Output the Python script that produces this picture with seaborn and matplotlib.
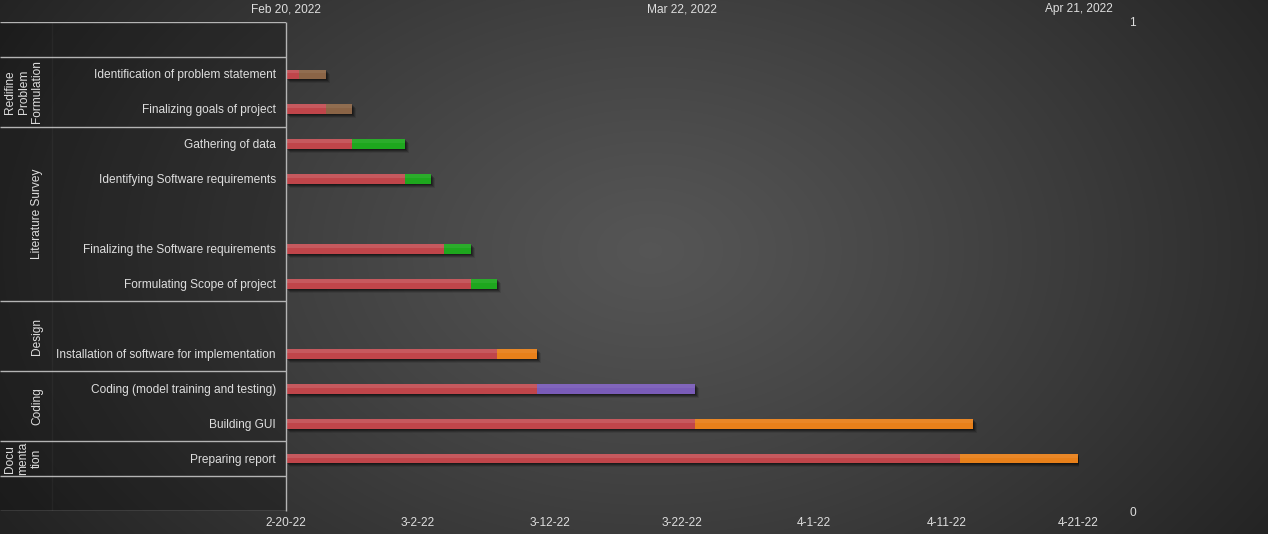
import numpy as np
import pandas as pd
import matplotlib
matplotlib.use("Agg")
import matplotlib.pyplot as plt
import matplotlib.transforms as mtrans
from matplotlib.patches import Rectangle
import seaborn as sns

# ---------------- data ----------------
project_start = "2022-02-20"
project_end = "2022-04-21"

tasks = ["", "Identification of problem statement", "Finalizing goals of project",
         "Gathering of data", "Identifying Software requirements", "",
         "Finalizing the Software requirements", "Formulating Scope of project", "",
         "Installation of software for implementation", "Coding (model training and testing)",
         "Building GUI", "Preparing report", ""]
task_starts = ["2022-02-20", "2022-02-21", "2022-02-23", "2022-02-25", "2022-03-01", "2022-02-20",
               "2022-03-04", "2022-03-06", "2022-02-20", "2022-03-08", "2022-03-11",
               "2022-03-23", "2022-04-12", "2022-02-20"]
task_ends = ["2022-02-20", "2022-02-23", "2022-02-25", "2022-03-01", "2022-03-03", "2022-02-20",
             "2022-03-06", "2022-03-08", "2022-02-20", "2022-03-11", "2022-03-23",
             "2022-04-13", "2022-04-21", "2022-02-20"]
task_colors = ["#c0464a", "#8a6446", "#8a6446", "#1ea71e", "#1ea71e", "#1ea71e",
               "#1ea71e", "#1ea71e", "#e8801a", "#e8801a", "#7a5cb8",
               "#e8801a", "#e8801a", "#c0464a"]
offset_color = "#c0454a"

group_names = ["Redifine\nProblem\nFormulation", "Literature Survey", "Design", "Coding",
               "Docu\nmenta\ntion"]
group_first_row = [1, 3, 8, 10, 12]
group_last_row = [2, 7, 9, 11, 12]

bottom_tick_step = 10
top_tick_step = 30

# ---------------- prep ----------------
t0 = pd.Timestamp(project_start)
t1 = pd.Timestamp(project_end)
total_days = (t1 - t0).days
rows = [str(i) for i in range(len(tasks))]
df = pd.DataFrame({
    "row": rows,
    "task": tasks,
    "start_day": [(pd.Timestamp(s) - t0).days for s in task_starts],
    "end_day": [(pd.Timestamp(e) - t0).days for e in task_ends],
})

TXT = "#dedede"
FS = 8.6
plt.rcParams["font.family"] = ["Liberation Sans", "DejaVu Sans"]

W, H = 1268, 534
fig = plt.figure(figsize=(W / 100, H / 100), dpi=100)

# background radial gradient
bg = fig.add_axes([0, 0, 1, 1], zorder=-10)
bg.axis("off")
yy, xx = np.mgrid[0:H, 0:W]
d = np.sqrt(((xx - 650) / 760) ** 2 + ((yy - 250) / 520) ** 2)
v = 0.335 - (0.335 - 0.135) * np.clip(d, 0, 1) ** 1.15
rgb = np.dstack([v, v, v])
bg.imshow(rgb, aspect="auto", extent=[0, 1, 0, 1], interpolation="bilinear")
bg.set_xlim(0, 1)
bg.set_ylim(0, 1)

L = 286 / W
R = 1079 / W
B = (H - 511) / H
T = (H - 22) / H
ax = fig.add_axes([L, B, R - L, T - B])
ax.set_facecolor("none")

# full bars (coloured duration part)
sns.barplot(data=df, x="end_day", y="row", hue="row", order=rows, hue_order=rows,
            palette=task_colors, legend=False, orient="h", width=0.28, dodge=False,
            saturation=1, linewidth=0, ax=ax)
full_patches = list(ax.patches)
# shadows
for p in full_patches:
    if p.get_width() <= 0:
        continue
    for k, a in [(1, 0.25), (2, 0.22), (3, 0.18), (4, 0.10)]:
        tr = ax.transData + mtrans.ScaledTranslation(k / 100, -k / 100, fig.dpi_scale_trans)
        ax.add_patch(Rectangle((p.get_x(), p.get_y()), p.get_width(), p.get_height(),
                               transform=tr, facecolor="black", alpha=a, lw=0,
                               zorder=p.get_zorder() - 0.5))
# offset (red) part
sns.barplot(data=df, x="start_day", y="row", order=rows, color=offset_color,
            orient="h", width=0.28, saturation=1, linewidth=0, ax=ax)
# slight gloss
for p in list(ax.patches):
    if isinstance(p, Rectangle) and p.get_facecolor()[3] == 1 and p.get_width() > 0:
        ax.add_patch(Rectangle((p.get_x(), p.get_y()), p.get_width(), p.get_height() * 0.4,
                               facecolor="white", alpha=0.06, lw=0, zorder=p.get_zorder() + 0.1))

ax.set_ylim(len(rows) - 0.5, -0.5)
ax.set_xlim(0, total_days + 0.04)
ax.set_xlabel("")
ax.set_ylabel("")
ax.set_yticks([])
bt = list(range(0, total_days + 1, bottom_tick_step))
bl = []
for dd in bt:
    t = t0 + pd.Timedelta(days=dd)
    bl.append(f"{t.month}-{t.day}-{t:%y}")
ax.set_xticks(bt, labels=bl)
ax.set_xticks(list(range(top_tick_step, total_days + 1, top_tick_step)), minor=True)
ax.tick_params(axis="x", which="both", length=0, pad=4.3, colors=TXT, labelsize=FS)
ax.grid(False)
ax.grid(which="minor", axis="x", color="#6a6a6a", lw=1)
ax.set_axisbelow(True)
for s in ax.spines.values():
    s.set_visible(False)

sec = ax.secondary_xaxis("top")
tt = list(range(0, total_days + 1, top_tick_step))
tl = []
for dd in tt:
    t = t0 + pd.Timedelta(days=dd)
    tl.append(f"{t:%b} {t.day}, {t.year}")
sec.set_xticks(tt, labels=tl)
sec.tick_params(length=0, pad=5, colors=TXT, labelsize=FS)
for s in sec.spines.values():
    s.set_visible(False)

ax2 = ax.twinx()
ax2.set_ylim(0, 1)
ax2.set_yticks([0, 1], labels=["0", "1"])
ax2.tick_params(axis="y", length=0, pad=36, colors=TXT, labelsize=FS)
for s in ax2.spines.values():
    s.set_visible(False)

# ---------------- left table ----------------
axt = fig.add_axes([0, B, L, T - B])
axt.set_facecolor("none")
axt.set_xlim(0, 286)
axt.set_ylim(len(rows) - 0.5, -0.5)
axt.axis("off")
axt.add_patch(Rectangle((0, -0.5), 286, len(rows), facecolor="black", alpha=0.22, lw=0))
borders = sorted(set([-0.5, len(rows) - 0.5] + [f - 0.5 for f in group_first_row] +
                     [l + 0.5 for l in group_last_row]))
axt.hlines(borders, 0, 286, color="#b4b4b4", lw=1)
axt.vlines(285.5, -0.5, len(rows) - 0.5, color="#b4b4b4", lw=1, clip_on=False)
axt.vlines(52, -0.5, len(rows) - 0.5, color="white", alpha=0.04, lw=1)
for i, name in enumerate(tasks):
    if name:
        axt.text(276, i + 0.03, name, ha="right", va="center", color=TXT, fontsize=FS)
for g, f, l in zip(group_names, group_first_row, group_last_row):
    axt.text(43, (f + l) / 2, g, rotation=90, rotation_mode="anchor", ha="center",
             va="bottom", color=TXT, fontsize=FS, linespacing=1.15)

fig.savefig("out.png", dpi=100)
